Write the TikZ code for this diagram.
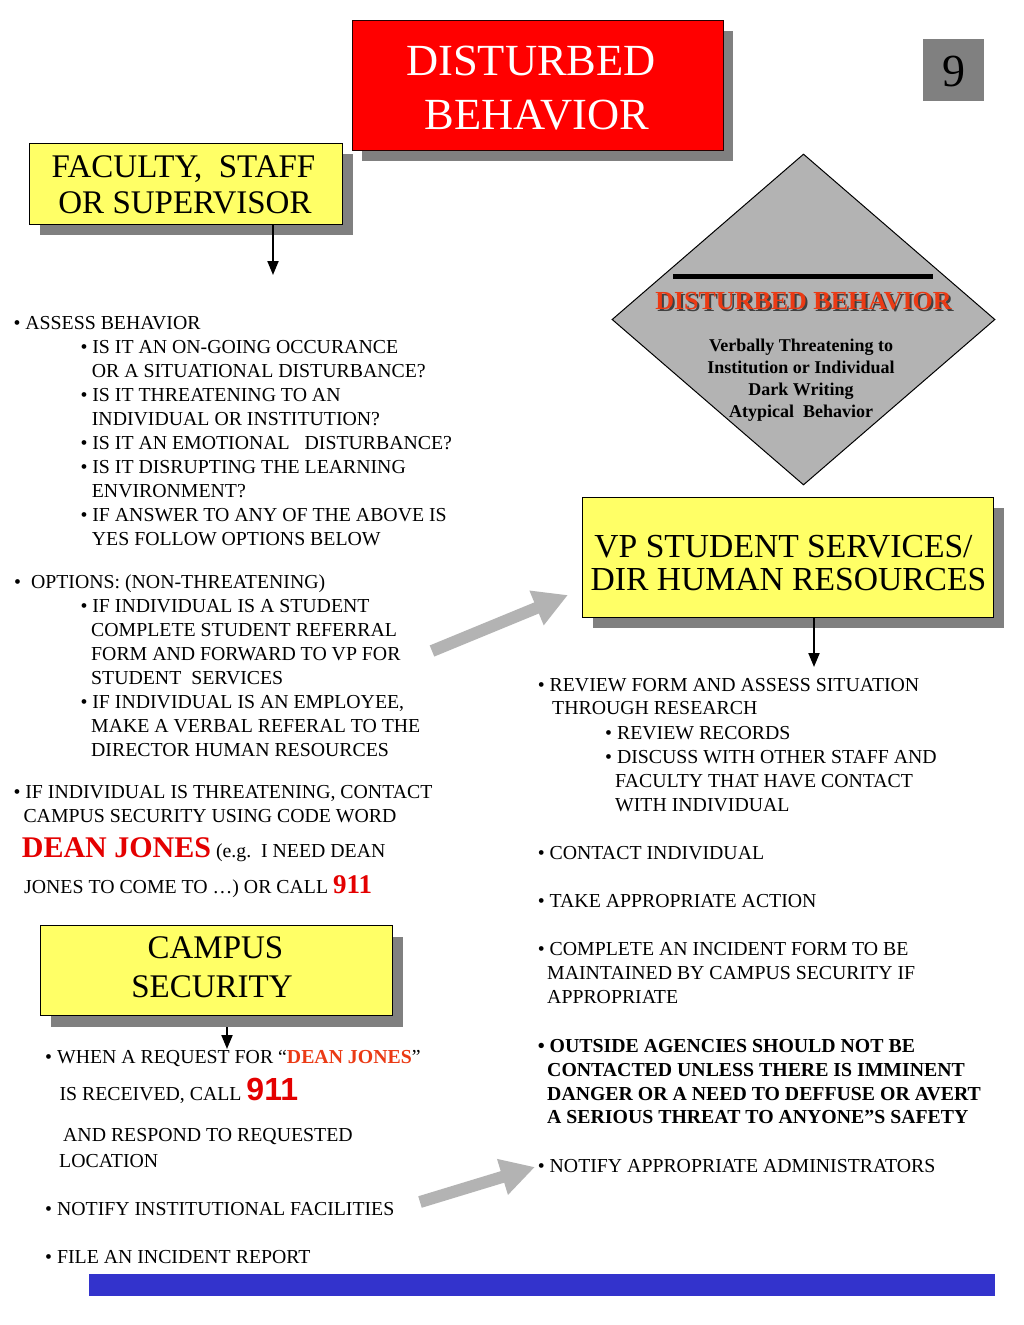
\documentclass[tikz,border=0pt]{standalone}
\usepackage{fontspec}
\setmainfont{Liberation Serif}
\newfontfamily\sansfam{Liberation Sans}
\usetikzlibrary{arrows.meta,shapes.geometric}
\definecolor{boxyellow}{RGB}{255,255,102}
\definecolor{shadowgray}{RGB}{128,128,128}
\definecolor{lightgraytwo}{RGB}{179,179,179}
\definecolor{titlered}{RGB}{255,0,0}
\definecolor{textred}{RGB}{228,0,0}
\definecolor{orangered}{RGB}{235,58,20}
\definecolor{barblue}{RGB}{51,51,204}
\newcommand\redbig[1]{{\fontsize{30}{30}\selectfont\bfseries\color{textred}#1}}
\newcommand\redmid[1]{{\fontsize{27}{27}\selectfont\bfseries\color{textred}#1}}
\newcommand\redsans[1]{{\sansfam\fontsize{32}{32}\selectfont\bfseries\color{textred}#1}}
\tikzset{
  shadowbox/.style={fill=shadowgray, draw=none, inner sep=0pt, outer sep=0pt, anchor=north west},
  ybox/.style={fill=boxyellow, draw=black, line width=1pt, inner sep=0pt, outer sep=0pt, anchor=north west},
  rbox/.style={fill=titlered, draw=black!85!red, line width=1pt, inner sep=0pt, outer sep=0pt, anchor=north west},
  txt/.style={anchor=base west, inner sep=0pt, font=\fontsize{19.8}{24}\selectfont},
  btxt/.style={txt, font=\fontsize{19.8}{24}\selectfont\bfseries},
  boxtxt/.style={anchor=base, inner sep=0pt, font=\fontsize{33}{36}\selectfont},
  titletxt/.style={anchor=base, inner sep=0pt, text=white, font=\fontsize{44.5}{54}\selectfont},
  diatxt/.style={anchor=base, inner sep=0pt, font=\fontsize{18}{22}\selectfont\bfseries},
  blackarrow/.style={line width=2pt, -{Triangle[length=14pt,width=11pt]}},
  grayarrow/.style={draw=lightgraytwo, line width=12pt, -{Triangle[length=34pt,width=35pt]}},
}
\begin{document}
\begin{tikzpicture}[x=1pt,y=-1pt]
\useasboundingbox (0,0) rectangle (1024,1325);
\fill[white] (0,0) rectangle (1024,1325);

% title box
\node[shadowbox, minimum width=371pt, minimum height=130pt] (titlesh) at (362,31) {};
\node[rbox, minimum width=371pt, minimum height=130pt] (title) at (352,20) {};
\node[titletxt] (title1) at (531,75) {DISTURBED};
\node[titletxt] (title2) at (537,129) {BEHAVIOR};

% number box
\node[fill=shadowgray, anchor=north west, inner sep=0pt, minimum width=61pt, minimum height=62pt] (num) at (923,39) {};
\node[anchor=base, inner sep=0pt, font=\fontsize{46}{46}\selectfont] (numtxt) at (953.5,86) {9};

% faculty box
\node[shadowbox, minimum width=313pt, minimum height=81pt] (facsh) at (40,154) {};
\node[ybox, minimum width=313pt, minimum height=81pt] (fac) at (29,143) {};
\node[boxtxt] (fac1) at (183.5,177) {FACULTY,\ \ STAFF};
\node[boxtxt] (fac2) at (185,213) {OR SUPERVISOR};
\coordinate (facend) at (273,275);
\draw[blackarrow] (fac.south -| facend) -- (facend);

% diamond
\node[diamond, draw=black, line width=1pt, fill=lightgraytwo, minimum width=383pt, minimum height=331pt, inner sep=0pt] (dia) at (803.5,319.5) {};
\draw[line width=5pt] (673,276) -- (933,276);
\node[anchor=base, inner sep=0pt, font=\fontsize{26}{26}\selectfont\bfseries, text=black!75] (diatsh) at (805.5,311) {DISTURBED BEHAVIOR};
\node[anchor=base, inner sep=0pt, font=\fontsize{26}{26}\selectfont\bfseries, text=orangered] (diat) at (803.5,309) {DISTURBED BEHAVIOR};
\node[diatxt] (dia1) at (801,351) {Verbally Threatening to};
\node[diatxt] (dia2) at (801,373) {Institution or Individual};
\node[diatxt] (dia3) at (801,395) {Dark Writing};
\node[diatxt] (dia4) at (801,417) {Atypical\ \ Behavior};

% left text block
\node[txt] (l1) at (13.3,329) {• ASSESS BEHAVIOR};
\node[txt] (l2) at (80.3,353) {• IS IT AN ON-GOING OCCURANCE};
\node[txt] (l3) at (91.7,377) {OR A SITUATIONAL DISTURBANCE?};
\node[txt] (l4) at (80.3,401) {• IS IT THREATENING TO AN};
\node[txt] (l5) at (91.7,425) {INDIVIDUAL OR INSTITUTION?};
\node[txt] (l6) at (80.3,449) {• IS IT AN EMOTIONAL\ \ \ DISTURBANCE?};
\node[txt] (l7) at (80.3,473) {• IS IT DISRUPTING THE LEARNING};
\node[txt] (l8) at (91.7,497) {ENVIRONMENT?};
\node[txt] (l9) at (80.3,521) {• IF ANSWER TO ANY OF THE ABOVE IS};
\node[txt] (l10) at (91.7,545) {YES FOLLOW OPTIONS BELOW};

\node[txt] (o1) at (14,588) {•\ \ OPTIONS: (NON-THREATENING)};
\node[txt] (o2) at (80.3,612) {• IF INDIVIDUAL IS A STUDENT};
\node[txt] (o3) at (91,636) {COMPLETE STUDENT REFERRAL};
\node[txt] (o4) at (91,660) {FORM AND FORWARD TO VP FOR};
\node[txt] (o5) at (91,684) {STUDENT\ \ SERVICES};
\node[txt] (o6) at (80.3,708) {• IF INDIVIDUAL IS AN EMPLOYEE,};
\node[txt] (o7) at (91,732) {MAKE A VERBAL REFERAL TO THE};
\node[txt] (o8) at (91,756) {DIRECTOR HUMAN RESOURCES};

\node[txt] (t1) at (13.3,798) {• IF INDIVIDUAL IS THREATENING, CONTACT};
\node[txt] (t2) at (23.3,822) {CAMPUS SECURITY USING CODE WORD};
\node[txt] (t3) at (21.7,857) {\redbig{DEAN JONES} (e.g.\ \ I NEED DEAN};
\node[txt] (t4) at (24,893) {JONES TO COME TO …) OR CALL \redmid{911}};

% gray arrow 1
\coordinate (g1s) at (432,651);
\coordinate (g1e) at (568,595);
\draw[grayarrow] (g1s) -- (g1e);

% VP box
\node[shadowbox, minimum width=411pt, minimum height=120pt] (vpsh) at (593,508) {};
\node[ybox, minimum width=411pt, minimum height=120pt] (vp) at (582,497) {};
\node[boxtxt, font=\fontsize{33.6}{36}\selectfont] (vp1) at (783.5,557) {VP STUDENT SERVICES/};
\node[boxtxt, font=\fontsize{33.6}{36}\selectfont] (vp2) at (788.5,590) {DIR HUMAN RESOURCES};
\coordinate (vpend) at (814,667);
\draw[blackarrow] (vp.south -| vpend) -- (vpend);

% right text block
\node[txt] (r1) at (537.6,691) {• REVIEW FORM AND ASSESS SITUATION};
\node[txt] (r2) at (552,714) {THROUGH RESEARCH};
\node[txt] (r3) at (605,739) {• REVIEW RECORDS};
\node[txt] (r4) at (605,763) {• DISCUSS WITH OTHER STAFF AND};
\node[txt] (r5) at (615,787) {FACULTY THAT HAVE CONTACT};
\node[txt] (r6) at (615,811) {WITH INDIVIDUAL};
\node[txt] (r7) at (537.6,859) {• CONTACT INDIVIDUAL};
\node[txt] (r8) at (537.6,907) {• TAKE APPROPRIATE ACTION};
\node[txt] (r9) at (537.6,955) {• COMPLETE AN INCIDENT FORM TO BE};
\node[txt] (r10) at (547,979) {MAINTAINED BY CAMPUS SECURITY IF};
\node[txt] (r11) at (547,1003) {APPROPRIATE};
\node[btxt] (r12) at (537.6,1052) {• OUTSIDE AGENCIES SHOULD NOT BE};
\node[btxt] (r13) at (547,1076) {CONTACTED UNLESS THERE IS IMMINENT};
\node[btxt] (r14) at (547,1100) {DANGER OR A NEED TO DEFFUSE OR AVERT};
\node[btxt] (r15) at (547,1123) {A SERIOUS THREAT TO ANYONE”S SAFETY};
\node[txt] (r16) at (537.6,1172) {• NOTIFY APPROPRIATE ADMINISTRATORS};

% campus security box
\node[shadowbox, minimum width=352pt, minimum height=90pt] (cssh) at (51,937) {};
\node[ybox, minimum width=352pt, minimum height=90pt] (cs) at (40,925) {};
\node[boxtxt] (cs1) at (215.5,958) {CAMPUS};
\node[boxtxt] (cs2) at (212,997) {SECURITY};
\coordinate (csend) at (227,1049);
\draw[blackarrow] (cssh.south -| csend) -- (csend);

\node[txt] (c1) at (45,1063) {• WHEN A REQUEST FOR “{\bfseries\color{orangered}DEAN JONES}”};
\node[txt] (c2) at (59.3,1100) {IS RECEIVED, CALL \redsans{911}};
\node[txt] (c3) at (63,1141) {AND RESPOND TO REQUESTED};
\node[txt] (c4) at (59,1167) {LOCATION};
\node[txt] (c5) at (45,1215) {• NOTIFY INSTITUTIONAL FACILITIES};
\node[txt] (c6) at (45,1263) {• FILE AN INCIDENT REPORT};

% gray arrow 2
\coordinate (g2s) at (420,1202);
\coordinate (g2e) at (535,1167);
\draw[grayarrow] (g2s) -- (g2e);

% blue bar
\fill[barblue] (89,1274) rectangle (995,1296);
\end{tikzpicture}
\end{document}
